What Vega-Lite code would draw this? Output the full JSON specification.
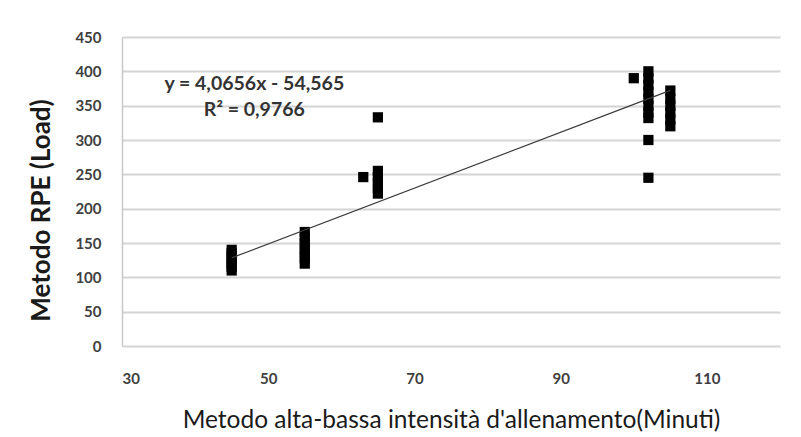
{
  "$schema": "https://vega.github.io/schema/vega-lite/v6.json",
  "autosize": "none",
  "width": 658,
  "height": 309,
  "padding": {"left": 122, "top": 37, "right": 21, "bottom": 91},
  "background": "white",
  "config": {
    "view": {"stroke": null},
    "font": "Lato",
    "axisX": {
      "titleFont": "Lato", "titleFontSize": 24.5, "titleFontWeight": "normal", "titleColor": "#1a1a1a",
      "titleBaseline": "middle", "titleY": 74,
      "labelFont": "Lato", "labelFontSize": 15, "labelFontWeight": "bold", "labelColor": "#404040",
      "labelPadding": 25, "ticks": false, "grid": false, "domain": false
    },
    "axisY": {
      "labelOverlap": false,
      "titleFont": "Lato", "titleFontSize": 26, "titleFontWeight": "bold", "titleColor": "#1a1a1a",
      "titleAngle": 270, "titleAlign": "center", "titleBaseline": "middle",
      "titleX": -81, "titleY": 173,
      "labelFont": "Lato", "labelFontSize": 15, "labelFontWeight": "bold", "labelColor": "#404040",
      "labelPadding": 21, "ticks": false,
      "grid": true, "gridColor": "#d4d4d4", "gridWidth": 2,
      "domain": true, "domainColor": "#c8c8c8", "domainWidth": 1.5
    }
  },
  "datasets": {
    "points": [
      {"minuti": 45, "load": 110}, {"minuti": 45, "load": 115}, {"minuti": 45, "load": 120}, {"minuti": 45, "load": 125}, {"minuti": 45, "load": 130}, {"minuti": 45, "load": 135}, {"minuti": 45, "load": 140},
      {"minuti": 55, "load": 120}, {"minuti": 55, "load": 128}, {"minuti": 55, "load": 135}, {"minuti": 55, "load": 142}, {"minuti": 55, "load": 150}, {"minuti": 55, "load": 158}, {"minuti": 55, "load": 166},
      {"minuti": 63, "load": 246},
      {"minuti": 65, "load": 222}, {"minuti": 65, "load": 230}, {"minuti": 65, "load": 238}, {"minuti": 65, "load": 246}, {"minuti": 65, "load": 255}, {"minuti": 65, "load": 333},
      {"minuti": 100, "load": 390},
      {"minuti": 102, "load": 245}, {"minuti": 102, "load": 300}, {"minuti": 102, "load": 332}, {"minuti": 102, "load": 340}, {"minuti": 102, "load": 350}, {"minuti": 102, "load": 360}, {"minuti": 102, "load": 370}, {"minuti": 102, "load": 380}, {"minuti": 102, "load": 390}, {"minuti": 102, "load": 400},
      {"minuti": 105, "load": 320}, {"minuti": 105, "load": 330}, {"minuti": 105, "load": 340}, {"minuti": 105, "load": 350}, {"minuti": 105, "load": 360}, {"minuti": 105, "load": 372}
    ],
    "trend": [
      {"minuti": 45, "load": 128.4},
      {"minuti": 105, "load": 372.3}
    ],
    "note": [{"equation": "y = 4,0656x - 54,565", "r2": "R² = 0,9766"}]
  },
  "layer": [
    {
      "data": {"name": "points"},
      "mark": {"type": "point", "shape": "square", "filled": true, "color": "#000000", "opacity": 1, "size": 105},
      "encoding": {
        "x": {
          "field": "minuti", "type": "quantitative",
          "scale": {"domain": [30, 120], "nice": false, "zero": false},
          "axis": {"values": [30, 50, 70, 90, 110], "title": "Metodo alta-bassa intensità d'allenamento(Minuti)"}
        },
        "y": {
          "field": "load", "type": "quantitative",
          "scale": {"domain": [0, 450], "nice": false},
          "axis": {"values": [0, 50, 100, 150, 200, 250, 300, 350, 400, 450], "tickCount": 10, "title": "Metodo RPE (Load)"}
        }
      }
    },
    {
      "data": {"name": "trend"},
      "mark": {"type": "line", "color": "#3a3a3a", "strokeWidth": 1.2},
      "encoding": {
        "x": {"field": "minuti", "type": "quantitative",
          "axis": {"values": [30, 50, 70, 90, 110], "title": "Metodo alta-bassa intensità d'allenamento(Minuti)"}},
        "y": {"field": "load", "type": "quantitative",
          "axis": {"values": [0, 50, 100, 150, 200, 250, 300, 350, 400, 450], "tickCount": 10, "title": "Metodo RPE (Load)"}}
      }
    },
    {
      "data": {"name": "note"},
      "mark": {"type": "text", "font": "Lato", "fontSize": 19.5, "fontWeight": "bold", "color": "#333333", "align": "center", "baseline": "middle"},
      "encoding": {
        "text": {"field": "equation"},
        "x": {"datum": 48.1, "type": "quantitative",
          "axis": {"values": [30, 50, 70, 90, 110], "title": "Metodo alta-bassa intensità d'allenamento(Minuti)"}},
        "y": {"datum": 381, "type": "quantitative",
          "axis": {"values": [0, 50, 100, 150, 200, 250, 300, 350, 400, 450], "tickCount": 10, "title": "Metodo RPE (Load)"}}
      }
    },
    {
      "data": {"name": "note"},
      "mark": {"type": "text", "font": "Lato", "fontSize": 19.5, "fontWeight": "bold", "color": "#333333", "align": "center", "baseline": "middle"},
      "encoding": {
        "text": {"field": "r2"},
        "x": {"datum": 48.1, "type": "quantitative",
          "axis": {"values": [30, 50, 70, 90, 110], "title": "Metodo alta-bassa intensità d'allenamento(Minuti)"}},
        "y": {"datum": 344, "type": "quantitative",
          "axis": {"values": [0, 50, 100, 150, 200, 250, 300, 350, 400, 450], "tickCount": 10, "title": "Metodo RPE (Load)"}}
      }
    }
  ]
}
